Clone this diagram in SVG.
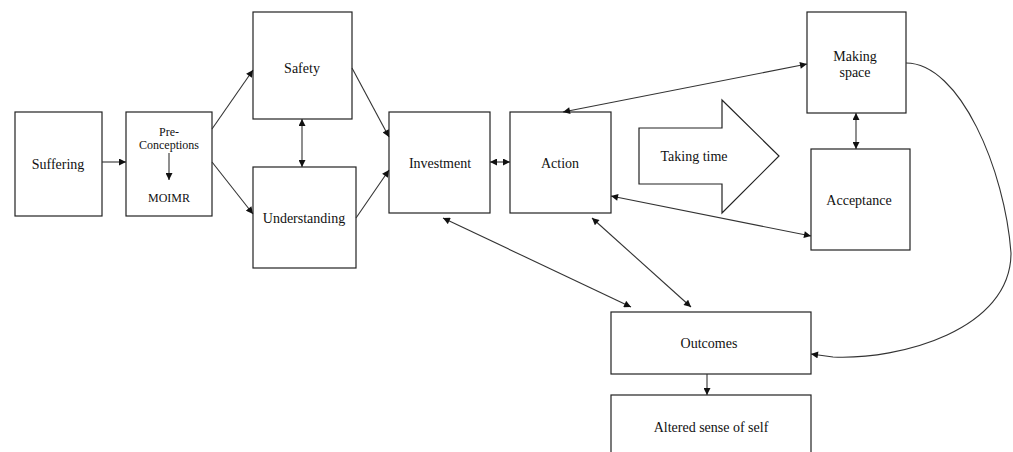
<svg xmlns="http://www.w3.org/2000/svg" width="1013" height="452" viewBox="0 0 1013 452">
<defs>
<style>
.box{fill:#fff;stroke:#222;stroke-width:1.2}
.lbl{font-family:"Liberation Serif","Times New Roman",serif;font-size:14px;fill:#111;text-anchor:middle;dominant-baseline:central}
.sm{font-size:12px}
.ln{fill:none;stroke:#333;stroke-width:1.1}
</style>
<marker id="ah" viewBox="0 0 10 10" refX="10" refY="5" markerWidth="8" markerHeight="7" markerUnits="userSpaceOnUse" orient="auto-start-reverse">
<path d="M0,0 L10,5 L0,10 z" fill="#111"/>
</marker>
</defs>
<rect width="1013" height="452" fill="#fff"/>
<g id="suffering"><rect class="box" x="15" y="112" width="87" height="104"/><text class="lbl" x="58" y="164">Suffering</text></g>
<g id="preconceptions"><rect class="box" x="126" y="112" width="86" height="104"/><text class="lbl sm" x="169" y="132">Pre-</text><text class="lbl sm" x="169" y="145">Conceptions</text><line class="ln" x1="169" y1="153" x2="169" y2="180" marker-end="url(#ah)"/><text class="lbl sm" x="169" y="198">MOIMR</text></g>
<g id="safety"><rect class="box" x="253" y="12" width="99" height="107"/><text class="lbl" x="302" y="68">Safety</text></g>
<g id="understanding"><rect class="box" x="253" y="167" width="103" height="101"/><text class="lbl" x="304" y="218">Understanding</text></g>
<g id="investment"><rect class="box" x="389" y="112" width="101" height="101"/><text class="lbl" x="440" y="163">Investment</text></g>
<g id="action"><rect class="box" x="510" y="112" width="101" height="101"/><text class="lbl" x="560" y="163">Action</text></g>
<g id="taking-time"><path class="box" d="M639,128 L722,128 L722,100 L779,156 L722,213 L722,184 L639,184 z"/><text class="lbl" x="694" y="156">Taking time</text></g>
<g id="making-space"><rect class="box" x="807" y="12" width="99" height="101"/><text class="lbl" x="855" y="56">Making</text><text class="lbl" x="855" y="72">space</text></g>
<g id="acceptance"><rect class="box" x="811" y="149" width="99" height="101"/><text class="lbl" x="859" y="200">Acceptance</text></g>
<g id="outcomes"><rect class="box" x="611" y="312" width="200" height="62"/><text class="lbl" x="709" y="343">Outcomes</text></g>
<g id="altered-sense"><rect class="box" x="611" y="395" width="200" height="70"/><text class="lbl" x="711" y="427">Altered sense of self</text></g>
<g id="connectors">
<line class="ln" x1="102" y1="162" x2="126" y2="162" marker-end="url(#ah)"/>
<line class="ln" x1="212" y1="129" x2="253" y2="70" marker-end="url(#ah)"/>
<line class="ln" x1="212" y1="162" x2="253" y2="214" marker-end="url(#ah)"/>
<line class="ln" x1="302" y1="119" x2="302" y2="167" marker-start="url(#ah)" marker-end="url(#ah)"/>
<line class="ln" x1="352" y1="68" x2="389" y2="137" marker-end="url(#ah)"/>
<line class="ln" x1="356" y1="218" x2="389" y2="170" marker-end="url(#ah)"/>
<line class="ln" x1="490" y1="162" x2="510" y2="162" marker-start="url(#ah)" marker-end="url(#ah)"/>
<line class="ln" x1="563" y1="112" x2="807" y2="64" marker-start="url(#ah)" marker-end="url(#ah)"/>
<line class="ln" x1="611" y1="196" x2="811" y2="236" marker-start="url(#ah)" marker-end="url(#ah)"/>
<line class="ln" x1="856" y1="113" x2="856" y2="149" marker-start="url(#ah)" marker-end="url(#ah)"/>
<line class="ln" x1="443" y1="218" x2="631" y2="307" marker-start="url(#ah)" marker-end="url(#ah)"/>
<line class="ln" x1="592" y1="218" x2="691" y2="307" marker-start="url(#ah)" marker-end="url(#ah)"/>
<line class="ln" x1="707" y1="374" x2="707" y2="395" marker-end="url(#ah)"/>
<path class="ln" d="M906,63 C960,63 1005,170 1011,253 C1011,330 900,360 833,357 L811,354" marker-end="url(#ah)"/>
</g>
</svg>
